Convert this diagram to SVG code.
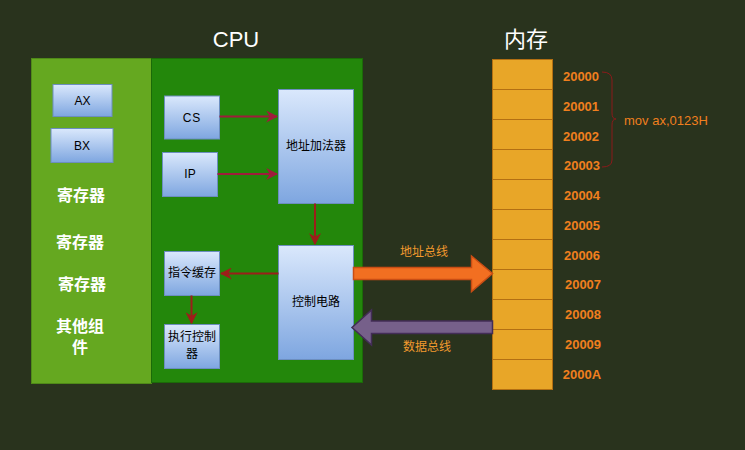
<svg xmlns="http://www.w3.org/2000/svg" width="745" height="450" viewBox="0 0 745 450">
<defs>
<linearGradient id="bg" x1="0" y1="0" x2="0" y2="1"><stop offset="0" stop-color="#dae8fc"/><stop offset="1" stop-color="#7ea6e0"/></linearGradient>
<marker id="ah1" viewBox="0 0 10 10" refX="9" refY="5" markerWidth="12" markerHeight="12" markerUnits="userSpaceOnUse" orient="auto"><path d="M0,0 L10,5 L0,10 L3,5 Z" fill="#a01c3c"/></marker>
<marker id="ah2" viewBox="0 0 10 10" refX="9" refY="5" markerWidth="12" markerHeight="12" markerUnits="userSpaceOnUse" orient="auto"><path d="M0,0 L10,5 L0,10 L3,5 Z" fill="#9c1e1a"/></marker>
</defs>
<style>
.box{fill:url(#bg);stroke:#6c8ebf;stroke-width:1}
.bt{font-family:"Liberation Sans","Noto Sans CJK SC",sans-serif;font-size:12px;fill:#000;text-anchor:middle;dominant-baseline:central}
.reg{font-family:"Liberation Sans","Noto Sans CJK SC",sans-serif;font-size:16px;font-weight:bold;fill:#fff;text-anchor:middle;dominant-baseline:central}
.addr{font-family:"Liberation Sans",sans-serif;font-size:13px;font-weight:bold;fill:#f07f1e;text-anchor:middle;dominant-baseline:central}
.cell{fill:#e8a628;stroke:#b36f12;stroke-width:1}
.title{font-family:"Liberation Sans","Noto Sans CJK SC",sans-serif;font-size:22px;fill:#fff;text-anchor:middle;dominant-baseline:central}
.bus{font-family:"Liberation Sans","Noto Sans CJK SC",sans-serif;font-size:12px;fill:#f29a2e;text-anchor:middle;dominant-baseline:central}
.c1{stroke:#a01c3c;stroke-width:2;fill:none}
.c2{stroke:#9c1e1a;stroke-width:2;fill:none}
</style>
<rect x="0" y="0" width="745" height="450" fill="#29331d"/>
<text class="title" x="236" y="39">CPU</text>
<text class="title" x="526" y="39">内存</text>
<g id="registers-panel">
<rect x="31.5" y="58.5" width="120" height="325" fill="#65a820" stroke="#4f8a18"/>
</g>
<g id="cpu-panel">
<rect x="151.5" y="58.5" width="211" height="324" fill="#23870b" stroke="#1b6b08"/>
</g>
<g id="ax"><rect class="box" x="53" y="84.5" width="59" height="32"/><text class="bt" x="82.5" y="100.5">AX</text></g>
<g id="bx"><rect class="box" x="51" y="128.5" width="62" height="34"/><text class="bt" x="82" y="145.5">BX</text></g>
<g id="reg1"><text class="reg" x="81" y="195">寄存器</text></g>
<g id="reg2"><text class="reg" x="80" y="242">寄存器</text></g>
<g id="reg3"><text class="reg" x="82" y="284">寄存器</text></g>
<g id="other"><text class="reg" x="80" y="326">其他组</text><text class="reg" x="80" y="347">件</text></g>
<g id="cs"><rect class="box" x="164.5" y="96" width="55" height="43"/><text class="bt" x="192" y="117.5" style="letter-spacing:1px">CS</text></g>
<g id="ip"><rect class="box" x="162.5" y="152.5" width="55" height="44"/><text class="bt" x="190" y="174">IP</text></g>
<g id="adder"><rect class="box" x="278.5" y="89.5" width="75" height="114"/><text class="bt" x="316" y="146">地址加法器</text></g>
<g id="control"><rect class="box" x="278.5" y="245.5" width="75" height="114"/><text class="bt" x="316" y="302">控制电路</text></g>
<g id="icache"><rect class="box" x="164.5" y="251.5" width="55" height="44"/><text class="bt" x="192" y="273">指令缓存</text></g>
<g id="exec"><rect class="box" x="164.5" y="324.5" width="55" height="44"/><text class="bt" x="192" y="337">执行控制</text><text class="bt" x="192" y="354">器</text></g>
<g id="memory">
<rect class="cell" x="492.5" y="59.5" width="60" height="30"/>
<rect class="cell" x="492.5" y="89.5" width="60" height="30"/>
<rect class="cell" x="492.5" y="119.5" width="60" height="30"/>
<rect class="cell" x="492.5" y="149.5" width="60" height="30"/>
<rect class="cell" x="492.5" y="179.5" width="60" height="30"/>
<rect class="cell" x="492.5" y="209.5" width="60" height="30"/>
<rect class="cell" x="492.5" y="239.5" width="60" height="30"/>
<rect class="cell" x="492.5" y="269.5" width="60" height="30"/>
<rect class="cell" x="492.5" y="299.5" width="60" height="30"/>
<rect class="cell" x="492.5" y="329.5" width="60" height="30"/>
<rect class="cell" x="492.5" y="359.5" width="60" height="30"/>
<text class="addr" x="581" y="76">20000</text>
<text class="addr" x="581" y="106">20001</text>
<text class="addr" x="581" y="136">20002</text>
<text class="addr" x="582" y="165">20003</text>
<text class="addr" x="582" y="195">20004</text>
<text class="addr" x="582" y="225">20005</text>
<text class="addr" x="582" y="255">20006</text>
<text class="addr" x="583" y="284">20007</text>
<text class="addr" x="583" y="314">20008</text>
<text class="addr" x="583" y="344">20009</text>
<text class="addr" x="582" y="374">2000A</text>
</g>
<g id="brace">
<path d="M602,72 Q612,72 612,80 L612,113 Q612,119 616,119 Q612,119 612,125 L612,160 Q612,167 602,167" fill="none" stroke="#8b1a1a" stroke-width="1"/>
<text x="624" y="120" font-family="Liberation Sans,sans-serif" font-size="13" fill="#f07f1e" dominant-baseline="central">mov ax,0123H</text>
</g>
<g id="connectors">
<line class="c1" x1="219.5" y1="116.5" x2="277" y2="116.5" marker-end="url(#ah1)"/>
<line class="c1" x1="217.5" y1="174" x2="277" y2="174" marker-end="url(#ah1)"/>
<line class="c2" x1="315" y1="203.5" x2="315" y2="244" marker-end="url(#ah2)"/>
<line class="c2" x1="278.5" y1="273.5" x2="221" y2="273.5" marker-end="url(#ah2)"/>
<line class="c2" x1="191.5" y1="295.5" x2="191.5" y2="323" marker-end="url(#ah2)"/>
<path d="M353.5,267.5 L471.5,267.5 L471.5,256 L492.5,273.5 L471.5,291.5 L471.5,279.5 L353.5,279.5 Z" fill="#f26f21" stroke="#c94d14" stroke-width="1.5"/>
<path d="M492.5,321 L371.5,321 L371.5,310 L352,327.5 L371.5,345 L371.5,333.5 L492.5,333.5 Z" fill="#76608a" stroke="#432d57" stroke-width="1.5"/>
<text class="bus" x="424" y="252">地址总线</text>
<text class="bus" x="427" y="347">数据总线</text>
</g>
</svg>
